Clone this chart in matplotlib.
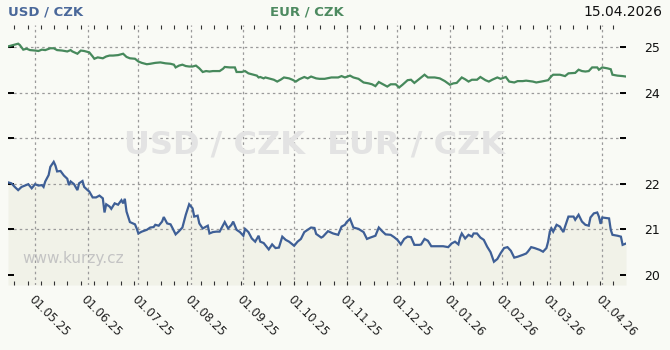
import numpy as np
import pandas as pd
import matplotlib
matplotlib.use("Agg")
import matplotlib.pyplot as plt
import matplotlib.dates as mdates
from matplotlib.ticker import FixedLocator

# day offsets from the first date
start = pd.Timestamp("2025-04-15")
end = pd.Timestamp("2026-04-15")

usd_day = [0, 2, 4, 6, 8, 10, 12, 14, 16, 18, 20, 21, 22, 24, 25, 27, 28, 29, 31, 33,
           35, 36, 37, 39, 41, 42, 44, 45, 47, 48, 50, 52, 54, 56, 57, 58, 60, 61, 63, 65,
           67, 68, 69, 70, 72, 75, 76, 77, 79, 82, 84, 86, 87, 89, 91, 92, 94, 96, 97, 99,
           101, 103, 105, 107, 109, 110, 112, 113, 115, 117, 118, 119, 121, 123, 125, 128, 130, 132, 133, 135,
           137, 139, 140, 142, 144, 146, 148, 149, 151, 154, 156, 158, 160, 162, 164, 166, 169, 171, 173, 175,
           177, 179, 181, 182, 185, 186, 189, 192, 195, 197, 199, 200, 202, 204, 207, 210, 212, 214, 217, 219,
           221, 223, 226, 228, 230, 232, 234, 236, 238, 240, 243, 244, 246, 248, 250, 253, 257, 260, 262, 264,
           266, 267, 268, 270, 272, 274, 275, 277, 279, 281, 283, 285, 287, 289, 291, 293, 295, 297, 299, 301,
           304, 306, 307, 309, 311, 314, 316, 318, 319, 320, 321, 322, 324, 326, 328, 329, 331, 334, 335, 337,
           339, 341, 343, 344, 346, 348, 349, 350, 351, 355, 356, 357, 360, 362, 363, 365]
usd_rate = [22.03, 22.01, 21.93, 21.86, 21.93, 21.96, 21.99, 21.90, 21.99, 21.96, 21.97, 21.93, 22.05, 22.19, 22.37, 22.48, 22.40, 22.27, 22.28, 22.18,
            22.11, 21.97, 22.05, 21.99, 21.86, 22.01, 22.06, 21.93, 21.86, 21.83, 21.70, 21.70, 21.74, 21.68, 21.37, 21.55, 21.50, 21.45, 21.57, 21.54,
            21.64, 21.57, 21.67, 21.39, 21.16, 21.11, 21.02, 20.91, 20.95, 20.99, 21.04, 21.05, 21.10, 21.08, 21.17, 21.27, 21.13, 21.11, 21.04, 20.89,
            20.96, 21.04, 21.32, 21.55, 21.46, 21.28, 21.30, 21.13, 21.02, 21.06, 21.08, 20.91, 20.94, 20.95, 20.95, 21.16, 21.02, 21.10, 21.17, 20.99,
            20.94, 20.86, 21.01, 20.94, 20.80, 20.73, 20.86, 20.73, 20.70, 20.56, 20.67, 20.59, 20.60, 20.84, 20.77, 20.73, 20.64, 20.73, 20.79, 20.94,
            20.99, 21.04, 21.03, 20.90, 20.82, 20.84, 20.96, 20.91, 20.88, 21.06, 21.10, 21.16, 21.23, 21.04, 21.01, 20.94, 20.79, 20.82, 20.86, 21.04,
            20.96, 20.89, 20.88, 20.83, 20.77, 20.67, 20.79, 20.84, 20.83, 20.66, 20.66, 20.67, 20.79, 20.75, 20.63, 20.63, 20.63, 20.61, 20.69, 20.73,
            20.67, 20.82, 20.91, 20.80, 20.88, 20.84, 20.91, 20.91, 20.82, 20.77, 20.62, 20.50, 20.29, 20.35, 20.48, 20.59, 20.61, 20.53, 20.38, 20.40,
            20.44, 20.47, 20.51, 20.61, 20.59, 20.55, 20.51, 20.59, 20.73, 20.95, 21.02, 20.95, 21.10, 21.06, 20.94, 21.06, 21.28, 21.28, 21.21, 21.32,
            21.17, 21.10, 21.08, 21.26, 21.35, 21.37, 21.28, 21.12, 21.26, 21.24, 20.99, 20.88, 20.86, 20.84, 20.66, 20.69]

eur_day = [0, 3, 6, 7, 9, 11, 13, 16, 18, 20, 22, 25, 27, 29, 32, 35, 37, 38, 41, 43,
           45, 48, 50, 51, 53, 56, 58, 60, 62, 65, 68, 70, 72, 75, 77, 79, 82, 84, 87, 90,
           93, 96, 98, 99, 101, 103, 105, 107, 109, 111, 113, 115, 117, 119, 121, 125, 127, 128, 131, 134,
           135, 138, 140, 142, 144, 147, 148, 149, 151, 152, 154, 157, 159, 161, 163, 166, 168, 170, 172, 175,
           177, 179, 182, 184, 187, 191, 195, 197, 199, 202, 204, 207, 210, 213, 215, 217, 219, 222, 224, 226,
           229, 231, 233, 236, 238, 240, 244, 246, 248, 252, 255, 258, 261, 263, 265, 268, 270, 272, 274, 277,
           279, 282, 284, 286, 289, 291, 294, 296, 299, 301, 304, 306, 310, 312, 315, 319, 321, 322, 326, 329,
           331, 335, 337, 339, 341, 343, 345, 348, 349, 351, 354, 356, 357, 360, 363, 365]
eur_rate = [25.01, 25.04, 25.07, 25.04, 24.94, 24.96, 24.93, 24.92, 24.91, 24.94, 24.93, 24.97, 24.97, 24.93, 24.92, 24.90, 24.93, 24.90, 24.85, 24.92,
            24.91, 24.88, 24.79, 24.74, 24.77, 24.75, 24.79, 24.81, 24.81, 24.82, 24.85, 24.78, 24.75, 24.74, 24.68, 24.65, 24.62, 24.63, 24.65, 24.66,
            24.64, 24.63, 24.61, 24.55, 24.59, 24.61, 24.58, 24.57, 24.57, 24.59, 24.53, 24.45, 24.47, 24.46, 24.47, 24.47, 24.52, 24.56, 24.55, 24.55,
            24.45, 24.45, 24.47, 24.42, 24.40, 24.37, 24.33, 24.34, 24.31, 24.33, 24.31, 24.28, 24.24, 24.28, 24.33, 24.31, 24.28, 24.24, 24.29, 24.34,
            24.31, 24.35, 24.31, 24.30, 24.30, 24.33, 24.33, 24.36, 24.33, 24.37, 24.33, 24.30, 24.22, 24.20, 24.18, 24.14, 24.23, 24.17, 24.13, 24.18,
            24.18, 24.11, 24.17, 24.27, 24.28, 24.21, 24.33, 24.39, 24.33, 24.33, 24.31, 24.25, 24.17, 24.20, 24.21, 24.33, 24.29, 24.24, 24.28, 24.28,
            24.34, 24.27, 24.24, 24.28, 24.33, 24.30, 24.34, 24.24, 24.22, 24.25, 24.25, 24.26, 24.24, 24.22, 24.24, 24.27, 24.36, 24.39, 24.39, 24.36,
            24.42, 24.43, 24.50, 24.47, 24.46, 24.47, 24.55, 24.55, 24.50, 24.55, 24.53, 24.51, 24.39, 24.37, 24.36, 24.35]

month_ticks = pd.date_range("2025-05-01", "2026-04-01", freq="MS")
y_ticks = [20, 21, 22, 23, 24, 25]
y_labels = ["20", "21", "22", "", "24", "25"]

bg = "#f9faf5"
fill_col = "#f1f2e8"
usd_col = "#3e5f96"
eur_col = "#47895c"

usd_x = start + pd.to_timedelta(usd_day, unit="D")
eur_x = start + pd.to_timedelta(eur_day, unit="D")

W, H = 670, 350
fig = plt.figure(figsize=(W / 100, H / 100), dpi=100, facecolor=bg)
ax = fig.add_axes([8 / W, 1 - 285 / H, (626 - 8) / W, (285 - 25) / H], facecolor=bg)

ybot = 19.78
ax.set_ylim(ybot, 25.48)
ax.set_xlim(start, end)

ax.fill_between(usd_x, usd_rate, ybot, color=fill_col, lw=0, zorder=1)
ax.plot(usd_x, usd_rate, color=usd_col, lw=1.6, zorder=3, solid_joinstyle="miter")
ax.plot(eur_x, eur_rate, color=eur_col, lw=1.6, zorder=3, solid_joinstyle="miter")

for s in ax.spines.values():
    s.set_visible(False)

ax.set_axisbelow("line")
ax.set_yticks(y_ticks)
ax.set_yticklabels(y_labels)
ax.tick_params(axis="y", left=True, right=True, labelleft=False, labelright=True,
               direction="in", length=4, width=1.4, color="black", pad=13,
               labelsize=9, labelcolor="#111111")

ax.xaxis.set_major_locator(FixedLocator(mdates.date2num(month_ticks)))
ax.xaxis.set_major_formatter(mdates.DateFormatter("%d.%m.%y"))
minor = mdates.date2num(start) + np.arange(3.7, 366, 7.86)
ax.xaxis.set_minor_locator(FixedLocator(minor))
ax.tick_params(axis="x", which="major", length=0, pad=6, labelsize=8.5, labelcolor="#222222")
ax.tick_params(axis="x", which="minor", top=True, bottom=True, direction="in",
               length=3, width=0.8, color="#333333")
plt.setp(ax.get_xticklabels(), rotation=-45, ha="left", va="top", rotation_mode="anchor")

ax.grid(True, which="major", color="#9a9a9a", lw=0.9, ls=(0, (2, 2.5)))
ax.yaxis.get_gridlines()[0].set_visible(False)

# watermarks
fig.text(315 / W, 1 - 145 / H, "USD / CZK  EUR / CZK", ha="center", va="center",
         fontsize=23, fontweight="bold", color="#e3e3e3", zorder=0)
ax.text(22 / W, 1 - 258 / H, "www.kurzy.cz", transform=fig.transFigure, ha="left", va="center",
        fontsize=11, color="#c4c4c4", zorder=2)

fig.text(8 / W, 1 - 12 / H, "USD / CZK", ha="left", va="center", fontsize=9.5,
         fontweight="bold", color="#4a689a")
fig.text(270 / W, 1 - 12 / H, "EUR / CZK", ha="left", va="center", fontsize=9.5,
         fontweight="bold", color="#4d8a60")
fig.text(662 / W, 1 - 12 / H, "15.04.2026", ha="right", va="center", fontsize=10,
         color="#111111")

fig.savefig("out.png", dpi=100, facecolor=bg)
